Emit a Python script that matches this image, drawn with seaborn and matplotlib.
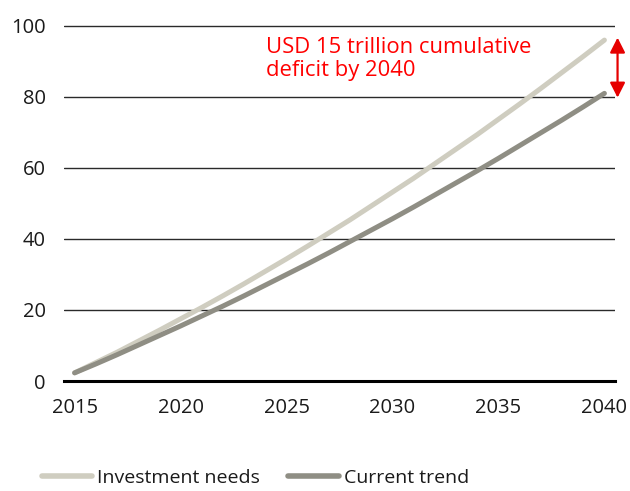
import matplotlib
matplotlib.use("Agg")
import matplotlib.pyplot as plt
import seaborn as sns
import pandas as pd

years = list(range(2015, 2041))
investment_needs = [2.3, 5.2, 8.1, 11.2, 14.3, 17.5, 20.7, 24.0, 27.4, 30.9,
                    34.4, 38.0, 41.7, 45.4, 49.3, 53.2, 57.1, 61.2, 65.3, 69.4,
                    73.7, 78.0, 82.4, 86.9, 91.4, 96.0]
current_trend = [2.3, 4.8, 7.4, 10.1, 12.8, 15.5, 18.3, 21.1, 24.0, 27.0,
                 30.0, 33.0, 36.1, 39.3, 42.5, 45.7, 49.0, 52.4, 55.8, 59.2,
                 62.7, 66.3, 69.9, 73.5, 77.2, 81.0]
series_names = ["Investment needs", "Current trend"]
series_colors = ["#cfcdc0", "#8f8e84"]
x_ticks = [2015, 2020, 2025, 2030, 2035, 2040]
y_ticks = [0, 20, 40, 60, 80, 100]
note = "USD 15 trillion cumulative\ndeficit by 2040"

df = pd.DataFrame({
    "year": years * 2,
    "value": investment_needs + current_trend,
    "series": [series_names[0]] * len(years) + [series_names[1]] * len(years),
})

sns.set_theme(style="white")
plt.rcParams["font.family"] = ["Open Sans", "DejaVu Sans"]

fig = plt.figure(figsize=(6.3, 4.91), dpi=100)
ax = fig.add_axes([0.1016, 0.224, 0.8746, 0.7305])

sns.lineplot(data=df, x="year", y="value", hue="series", hue_order=series_names,
             palette=series_colors, linewidth=3.6, ax=ax,
             solid_capstyle="round", zorder=3)

ax.set_xlim(2014.5, 2040.5)
ax.set_ylim(0, 101)
ax.set_xticks(x_ticks)
ax.set_yticks(y_ticks)
ax.set_xlabel("")
ax.set_ylabel("")
ax.tick_params(axis="both", length=0, labelsize=14.5, colors="#1a1a1a")
ax.tick_params(axis="y", pad=13)
ax.tick_params(axis="x", pad=12)

for s in ["top", "right", "left"]:
    ax.spines[s].set_visible(False)
ax.spines["bottom"].set_color("black")
ax.spines["bottom"].set_linewidth(2.2)

for v in y_ticks[1:]:
    ax.axhline(v, color="#2a2a2a", linewidth=1.0, zorder=1)

# Deficit annotation: double-headed arrow between the 2040 end values
ax.annotate("", xy=(2040.62, current_trend[-1] - 1.2),
            xytext=(2040.62, investment_needs[-1] + 0.7),
            arrowprops=dict(arrowstyle="<|-|>,head_length=0.75,head_width=0.38",
                            color="#e60000", lw=1.6, shrinkA=0, shrinkB=0),
            annotation_clip=False)
ax.text(2024.05, 97.0, note, color="#ff0000", fontsize=15.8, va="top", ha="left",
        linespacing=1.15)

leg = ax.legend(loc="lower left", bbox_to_anchor=(0.063, 0.004), bbox_transform=fig.transFigure,
                ncol=2, frameon=False, fontsize=14, handlelength=2.6,
                handletextpad=0.25, columnspacing=1.45, borderpad=0.1, borderaxespad=0)
for line in leg.get_lines():
    line.set_linewidth(4)
for t in leg.get_texts():
    t.set_color("#1a1a1a")

fig.savefig("out.png", dpi=100)
